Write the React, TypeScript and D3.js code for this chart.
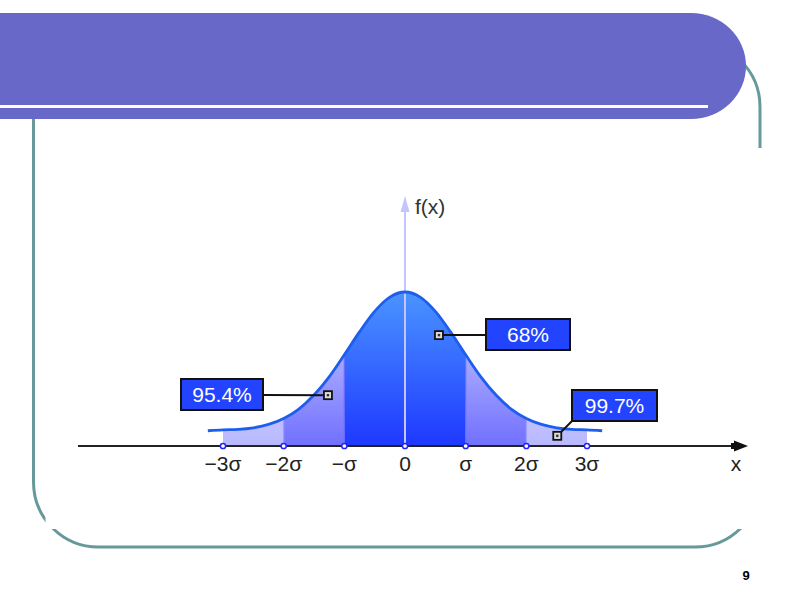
import React from "react";
import * as d3 from "d3";

// x in units of sigma, f relative to the peak height
const curveX = [-3.25, -3, -2.75, -2.5, -2.25, -2, -1.75, -1.5, -1.25, -1, -0.75, -0.5, -0.25, 0, 0.25, 0.5, 0.75, 1, 1.25, 1.5, 1.75, 2, 2.25, 2.5, 2.75, 3, 3.25];
const curveF = [0.099, 0.105, 0.108, 0.118, 0.140, 0.179, 0.240, 0.331, 0.449, 0.592, 0.741, 0.874, 0.967, 1.0, 0.967, 0.874, 0.741, 0.592, 0.449, 0.331, 0.240, 0.179, 0.140, 0.118, 0.108, 0.105, 0.099];

const tickValues = [-3, -2, -1, 0, 1, 2, 3];
const tickLabels = ["\u22123\u03c3", "\u22122\u03c3", "\u2212\u03c3", "0", "\u03c3", "2\u03c3", "3\u03c3"];

// bands: [from, to]
const bandFrom = [-3, -2, -1, 1, 2];
const bandTo = [-2, -1, 1, 2, 3];
const bandLevel = [3, 2, 1, 2, 3];

// annotations
const annText = ["95.4%", "68%", "99.7%"];
const annX = [-1.27, 0.56, 2.51];
const annF = [0.33, 0.72, 0.066];

export default function App() {
  const W = 800, H = 600;
  const x = d3.scaleLinear().domain([-3, 3]).range([223, 587]);
  const y = d3.scaleLinear().domain([0, 1]).range([446, 292]);
  const pts: [number, number][] = curveX.map((v, i) => [v, curveF[i]]);
  const inner = pts.filter(p => p[0] >= -3 && p[0] <= 3);
  const line = d3.line<[number, number]>().x(d => x(d[0])).y(d => y(d[1])).curve(d3.curveMonotoneX);
  const area = d3.area<[number, number]>().x(d => x(d[0])).y0(y(0)).y1(d => y(d[1])).curve(d3.curveMonotoneX);
  const areaPath = area(inner) || "";

  const gradStops: Record<number, [string, string]> = {
    1: ["#4a94ff", "#1f38ff"],
    2: ["#d4d4ff", "#7070ff"],
    3: ["#e8e8ff", "#b8b8ff"],
  };

  // box layout (pixel boxes for callouts)
  const boxes = [
    { x0: 181, y0: 379, w: 82, h: 31, lx: 263, ly: 395 },
    { x0: 486, y0: 319, w: 84, h: 31, lx: 486, ly: 335 },
    { x0: 572, y0: 390, w: 85, h: 31, lx: 573, ly: 420 },
  ];

  const font = "'Liberation Sans', Arial, sans-serif";
  const axY = y(0);
  const yTop = 196;

  return (
    <svg width={W} height={H} style={{ position: "absolute", left: 0, top: 0 }}>
      <defs>
        {[1, 2, 3].map(l => (
          <linearGradient key={l} id={`g${l}`} gradientUnits="userSpaceOnUse" x1={0} y1={292} x2={0} y2={446}>
            <stop offset="0" stopColor={gradStops[l][0]} />
            <stop offset="1" stopColor={gradStops[l][1]} />
          </linearGradient>
        ))}
        {bandFrom.map((a, i) => (
          <clipPath key={i} id={`c${i}`}>
            <rect x={x(a)} y={0} width={x(bandTo[i]) - x(a)} height={H} />
          </clipPath>
        ))}
      </defs>
      <rect x={0} y={0} width={W} height={H} fill="#fff" />
      {/* slide frame */}
      <rect x={33.5} y={42} width={726.5} height={505} rx={65} ry={65} fill="none" stroke="#669999" strokeWidth={3} />
      <rect x={45.5} y={148} width={740} height={381} fill="#fff" />
      {/* title bar */}
      <rect x={-80} y={13} width={826} height={106} rx={55} ry={53} fill="#6868c9" />
      <rect x={0} y={105} width={708} height={3} fill="#fff" />

      {/* bands */}
      {bandFrom.map((a, i) => (
        <path key={i} d={areaPath} fill={`url(#g${bandLevel[i]})`} clipPath={`url(#c${i})`} />
      ))}
      {/* band dividers */}
      {[-2, -1, 1, 2].map(v => {
        const fi = curveX.indexOf(v);
        return <line key={v} x1={x(v)} x2={x(v)} y1={axY} y2={y(curveF[fi])} stroke={Math.abs(v) === 1 ? "#6a6aff" : "#9a9aff"} strokeWidth={1.2} />;
      })}
      {/* y axis */}
      <line x1={x(0)} x2={x(0)} y1={axY} y2={yTop + 12} stroke="#c4c4ff" strokeWidth={2} />
      <path d={`M${x(0)},${yTop} L${x(0) - 4.5},${yTop + 16} L${x(0) + 4.5},${yTop + 16} Z`} fill="#c4c4ff" />
      <text x={415} y={214} fontFamily={font} fontSize={21} fill="#333">f(x)</text>

      {/* curve */}
      <path d={line(pts) || ""} fill="none" stroke="#1d5eee" strokeWidth={2.8} />

      {/* x axis */}
      <line x1={78} x2={738} y1={axY} y2={axY} stroke="#222" strokeWidth={2} />
      <path d={`M${734},${axY - 5.5} L${748},${axY} L${734},${axY + 5.5} Z`} fill="#111" />
      <rect x={731} y={axY - 3} width={4} height={6} fill="#111" />
      {tickValues.map((v, i) => (
        <g key={v}>
          <circle cx={x(v)} cy={axY} r={2.6} fill="#fff" stroke="#2222ff" strokeWidth={1.5} />
          <text x={x(v)} y={471} textAnchor="middle" fontFamily={font} fontSize={21} fill="#222">{tickLabels[i]}</text>
        </g>
      ))}
      <text x={736} y={471} textAnchor="middle" fontFamily={font} fontSize={21} fill="#222">x</text>

      {/* callouts */}
      {annText.map((t, i) => {
        const b = boxes[i];
        const mx = x(annX[i]);
        const my = y(annF[i]);
        return (
          <g key={t}>
            <line x1={b.lx} y1={b.ly} x2={mx} y2={my} stroke="#111" strokeWidth={2} />
            <rect x={b.x0} y={b.y0} width={b.w} height={b.h} fill="#2244ff" stroke="#111" strokeWidth={2} />
            <text x={b.x0 + b.w / 2} y={b.y0 + b.h / 2 + 7} textAnchor="middle" fontFamily={font} fontSize={21} fill="#fff">{t}</text>
            <rect x={mx - 4} y={my - 4} width={8} height={8} fill="#ddd" stroke="#111" strokeWidth={1.8} />
            <rect x={mx - 1.2} y={my - 1.2} width={2.4} height={2.4} fill="#333" />
          </g>
        );
      })}

      <text x={746} y={580} textAnchor="middle" fontFamily={font} fontSize={13} fontWeight="bold" fill="#000">9</text>
    </svg>
  );
}
